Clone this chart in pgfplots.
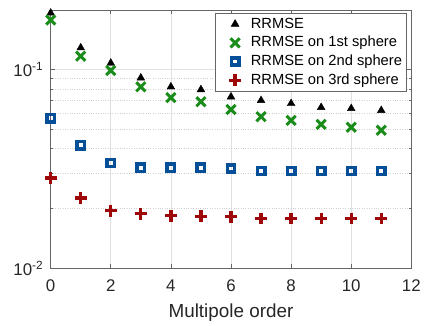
\documentclass[border=0pt]{standalone}
\usepackage{fontspec}
\setmainfont{Liberation Sans}
\usepackage{pgfplots}
\pgfplotsset{compat=1.18}
\definecolor{mgreen}{rgb}{0.10,0.55,0.10}
\definecolor{mblue}{rgb}{0.02,0.31,0.60}
\definecolor{mred}{rgb}{0.62,0.03,0.03}
\definecolor{axgray}{rgb}{0.40,0.40,0.40}
\begin{document}
\begin{tikzpicture}
\begin{axis}[
  at={(0,0)}, anchor=south west,
  scale only axis, width=363bp, height=260bp,
  xmin=0, xmax=12, ymode=log, ymin=0.01, ymax=0.2,
  xtick={0,2,4,6,8,10,12},
  xticklabels={0,2,4,6,8,10,12},
  ytick={0.01,0.1},
  yticklabels={10\textsuperscript{-2},10\textsuperscript{-1}},
  minor x tick num=0,
  grid=both,
  major grid style={black!12, line width=0.6bp},
  minor grid style={black!18, dotted, line width=0.6bp},
  axis line style={axgray, line width=0.7bp},
  tick style={axgray, line width=0.6bp},
  major tick length=4bp, minor tick length=2bp,
  tick align=inside,
  ticklabel style={font=\fontsize{17bp}{19bp}\selectfont, text=black!85},
  xticklabel style={yshift=-8bp},
  yticklabel style={xshift=-4bp},
  xlabel={Multipole order},
  xlabel style={font=\fontsize{19bp}{21bp}\selectfont, text=black!85, at={(axis description cs:0.5,0)}, anchor=base, yshift=-50bp},
  legend style={at={(rel axis cs:0.986,0.988)}, anchor=north east,
    font=\fontsize{14.8bp}{17bp}\selectfont, draw=axgray, line width=0.6bp,
    inner xsep=2bp, inner ysep=1.5bp, row sep=0bp,
    nodes={text height=11.5bp, text depth=3.5bp, inner ysep=1.9bp}},
  legend cell align=left,
  legend image code/.code={\path (0bp,0bp) (28bp,0bp); \draw[#1] plot coordinates {(16bp,0bp)};},
]
\addplot[only marks, mark=triangle*, mark size=4.5bp, black] coordinates {
(0,0.193)(1,0.129)(2,0.108)(3,0.091)(4,0.082)(5,0.0794)(6,0.073)(7,0.070)(8,0.0676)(9,0.0646)(10,0.0638)(11,0.0624)};
\addlegendentry{RRMSE}
\addplot[only marks, mark=x, mark size=6.5bp, mgreen, line width=3bp] coordinates {
(0,0.178)(1,0.117)(2,0.099)(3,0.082)(4,0.0724)(5,0.069)(6,0.063)(7,0.058)(8,0.0556)(9,0.053)(10,0.0513)(11,0.0495)};
\addlegendentry{RRMSE on 1st sphere}
\addplot[only marks, mark=square, mark size=3.7bp, mblue, line width=3.6bp] coordinates {
(0,0.0569)(1,0.0417)(2,0.0339)(3,0.032)(4,0.032)(5,0.032)(6,0.0318)(7,0.0309)(8,0.0309)(9,0.0309)(10,0.0309)(11,0.0309)};
\addlegendentry{RRMSE on 2nd sphere}
\addplot[only marks, mark=+, mark size=6bp, mred, line width=3.3bp] coordinates {
(0,0.0285)(1,0.0226)(2,0.0195)(3,0.0188)(4,0.0184)(5,0.0183)(6,0.0182)(7,0.0178)(8,0.0178)(9,0.0178)(10,0.0178)(11,0.0178)};
\addlegendentry{RRMSE on 3rd sphere}
\end{axis}
\path[use as bounding box] (-51bp,-55bp) rectangle (373bp,270bp);
\end{tikzpicture}
\end{document}
